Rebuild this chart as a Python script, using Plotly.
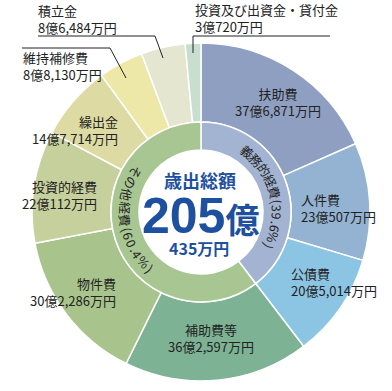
import math
import plotly.graph_objects as go

# ---- data ----
outer_labels = ["扶助費", "人件費", "公債費", "補助費等", "物件費", "投資的経費",
                "繰出金", "維持補修費", "積立金", "投資及び出資金・貸付金"]
outer_values = [376871, 230507, 205014, 362597, 302286, 220112,
                147714, 88130, 86484, 30720]  # 万円
outer_texts = ["37億6,871万円", "23億507万円", "20億5,014万円", "36億2,597万円",
               "30億2,286万円", "22億112万円", "14億7,714万円", "8億8,130万円",
               "8億6,484万円", "3億720万円"]
outer_colors = ["#8f9fc1", "#94b2d2", "#8cc4e4", "#7db294", "#a8c48c", "#c6d09c",
                "#dddba3", "#ede7a8", "#e4e6d0", "#c8decf"]

inner_labels = ["義務的経費", "その他経費"]
inner_values = [376871 + 230507 + 205014,
                362597 + 302286 + 220112 + 147714 + 88130 + 86484 + 30720]
inner_pct = ["39.6%", "60.4%"]
inner_colors = ["#a3b3d2", "#a8c692"]

total_title = "歳出総額"
total_big = "205"
total_unit = "億"
total_small = "435万円"

W, H = 392, 391
CX, CY = 201, 212
R_OUT, R_MID, R_HOLE = 169, 90, 62


def px(x):
    return x / W


def py(y):
    return 1 - y / H


fig = go.Figure()
fig.add_trace(go.Pie(
    labels=outer_labels, values=outer_values, sort=False, direction="clockwise",
    rotation=0, hole=R_MID / R_OUT, textinfo="none", hoverinfo="label+value",
    marker=dict(colors=outer_colors, line=dict(color="white", width=1.5)),
    domain=dict(x=[px(CX - R_OUT), px(CX + R_OUT)], y=[py(CY + R_OUT), py(CY - R_OUT)]),
    showlegend=False,
))
fig.add_trace(go.Pie(
    labels=inner_labels, values=inner_values, sort=False, direction="clockwise",
    rotation=0, hole=R_HOLE / R_MID, textinfo="none", hoverinfo="label+percent",
    marker=dict(colors=inner_colors, line=dict(color="white", width=1.5)),
    domain=dict(x=[px(CX - R_MID), px(CX + R_MID)], y=[py(CY + R_MID), py(CY - R_MID)]),
    showlegend=False,
))

ann = []
FONT = "Noto Sans CJK JP, Noto Sans, sans-serif"
TXT = "#222222"


def add_text(x, y, text, size=13, anchor="center", color=TXT, family=FONT, angle=0,
             align=None):
    ann.append(dict(x=px(x), y=py(y), xref="paper", yref="paper", text=text,
                    showarrow=False, xanchor=anchor, yanchor="middle", textangle=angle,
                    align=align or anchor, borderpad=0,
                    font=dict(size=size, color=color, family=family)))


# outer labels: (x, y-center of the two-line block, anchor)
label_pos = [
    (278, 102, "center"),
    (300, 208, "left"),
    (290, 282, "left"),
    (211, 338, "center"),
    (117, 292, "right"),
    (98, 195, "right"),
    (119, 130, "right"),
    (22, 66, "left"),
    (37, 19, "left"),
    (194, 18, "left"),
]
for (x, y, a), name, val in zip(label_pos, outer_labels, outer_texts):
    add_text(x, y, name + "<br>" + val, anchor=a, size=13)

# leader lines
shapes = []
leaders = [
    [(38, 36), (155, 36), (163, 58)],
    [(22, 48), (110, 48), (126, 78)],
    [(330, 36), (193, 36), (193, 53)],
]
for pts in leaders:
    for (x0, y0), (x1, y1) in zip(pts[:-1], pts[1:]):
        shapes.append(dict(type="line", xref="paper", yref="paper",
                           x0=px(x0), y0=py(y0), x1=px(x1), y1=py(y1),
                           line=dict(color="#222222", width=1)))


# curved inner-ring text
def char_w(c, fs):
    if c in "()":
        return 0.5 * fs
    if c.isdigit():
        return 0.62 * fs
    if c == ".":
        return 0.35 * fs
    if c == "%":
        return 0.95 * fs
    return 1.0 * fs


def curved(text, mid_deg, r, fs, clockwise=True):
    widths = [char_w(c, fs) for c in text]
    total = sum(widths)
    pos = -total / 2
    for c, w in zip(text, widths):
        off = (pos + w / 2) / r * 180 / math.pi
        th = mid_deg + off if clockwise else mid_deg - off
        t = math.radians(th)
        x = CX + r * math.sin(t)
        y = CY - r * math.cos(t)
        ang = th if clockwise else th - 180
        add_text(x, y, c, size=fs, angle=ang)
        pos += w


r_text = (R_HOLE + R_MID) / 2
curved(inner_labels[0] + "(" + inner_pct[0] + ")", 76, r_text, 12.5, clockwise=True)
curved(inner_labels[1] + "(" + inner_pct[1] + ")", 263, r_text, 12.5, clockwise=False)

# center text
BLUE = "#1e50a0"
add_text(200, 180, "<b>" + total_title + "</b>", size=18, color=BLUE)
add_text(200, 216,
         "<b>" + total_big + "<span style='font-size:34px;font-family:Noto Sans CJK JP'>"
         + total_unit + "</span></b>",
         size=50, color=BLUE,
         family="Liberation Sans Narrow, Liberation Sans, sans-serif")
add_text(199, 248, "<b>" + total_small + "</b>", size=16, color=BLUE)

fig.update_layout(
    width=W, height=H, margin=dict(l=0, r=0, t=0, b=0),
    paper_bgcolor="white", plot_bgcolor="white",
    annotations=ann, shapes=shapes,
)
fig.write_html("out.html", post_script="document.body.style.margin='0px';",
               config={"displayModeBar": False})
